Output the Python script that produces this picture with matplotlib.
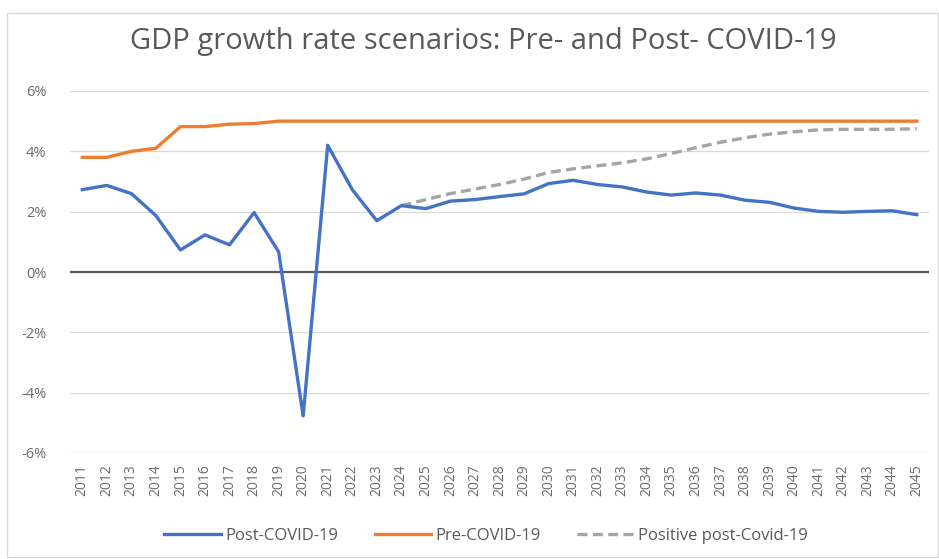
import matplotlib.pyplot as plt
from matplotlib.patches import Rectangle

years = [str(y) for y in range(2011, 2046)]

post_covid = [2.73, 2.87, 2.6, 1.87, 0.73, 1.23, 0.9, 1.97, 0.67, -4.77,
              4.2, 2.73, 1.7, 2.2, 2.1, 2.35, 2.4, 2.5, 2.59, 2.93,
              3.04, 2.9, 2.82, 2.65, 2.55, 2.62, 2.55, 2.38, 2.31, 2.12,
              2.01, 1.98, 2.01, 2.03, 1.9]

pre_covid = [3.8, 3.8, 4.0, 4.1, 4.82, 4.82, 4.9, 4.92, 5.0, 5.0,
             5.0, 5.0, 5.0, 5.0, 5.0, 5.0, 5.0, 5.0, 5.0, 5.0,
             5.0, 5.0, 5.0, 5.0, 5.0, 5.0, 5.0, 5.0, 5.0, 5.0,
             5.0, 5.0, 5.0, 5.0, 5.0]

positive_years = years[13:]
positive_post = [2.2, 2.4, 2.6, 2.75, 2.9, 3.08, 3.3, 3.42, 3.52, 3.62,
                 3.75, 3.93, 4.12, 4.3, 4.45, 4.57, 4.65, 4.71, 4.73, 4.73,
                 4.73, 4.75]

yticks = [-6, -4, -2, 0, 2, 4, 6]

plt.rcParams['font.family'] = ['Open Sans', 'DejaVu Sans']

fig = plt.figure(figsize=(9.39, 5.59), dpi=100)
ax = fig.add_axes([70/939, 1-453/559, 859/939, 362/559])

x = list(range(len(years)))
xp = list(range(13, len(years)))
ax.plot(x, post_covid, color='#4472C4', lw=2.4, label='Post-COVID-19', zorder=4)
ax.plot(x, pre_covid, color='#ED7D31', lw=2.4, label='Pre-COVID-19', zorder=3)
ax.plot(xp, positive_post, color='#A5A5A5', lw=2.4, ls=(0, (3, 1.6)),
        label='Positive post-Covid-19', zorder=3)

ax.axhline(0, color='#595959', lw=1.6, zorder=2)
ax.set_ylim(-6, 6)
ax.set_xlim(-0.5, len(years) - 0.5)
ax.set_yticks(yticks)
ax.set_yticklabels([f'{v}%' for v in yticks])
ax.set_xticks(x)
ax.set_xticklabels(years, rotation=90)
ax.grid(axis='y', color='#D9D9D9', lw=0.9)
ax.set_axisbelow(True)
for s in ax.spines.values():
    s.set_visible(False)
ax.tick_params(length=0, colors='#6B6B6B')
ax.tick_params(axis='y', pad=17, labelsize=10.5)
ax.tick_params(axis='x', pad=8, labelsize=10)

fig.text(483/939, 1-42/559, 'GDP growth rate scenarios: Pre- and Post- COVID-19',
         ha='center', va='center', fontsize=21, color='#595959')

fig.legend(loc='center', bbox_to_anchor=(486/939, 1-536/559), ncol=3,
           frameon=False, fontsize=12, labelcolor='#595959',
           handlelength=3.4, columnspacing=2.2, handletextpad=0.25)

fig.patches.append(Rectangle((7/939, 2/559), 931/939, 544/559, transform=fig.transFigure,
                             fill=False, edgecolor='#D9D9D9', lw=1))

fig.savefig('out.png', dpi=100)
